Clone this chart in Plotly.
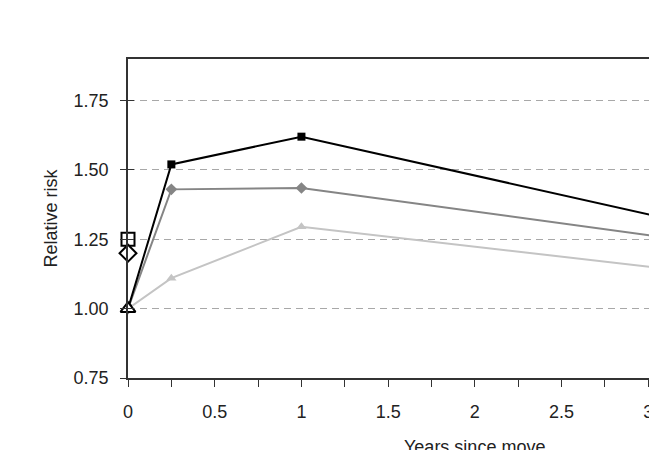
import plotly.graph_objects as go

years = [0, 0.25, 1, 4]
series_black = [1.00, 1.52, 1.62, 1.20]
series_gray = [1.00, 1.43, 1.435, 1.18]
series_light = [1.00, 1.11, 1.295, 1.08]

ref_x = [0, 0, 0]
ref_y = [1.25, 1.20, 1.00]
ref_symbols = ["square", "diamond", "triangle-up"]

x_tickvals = [0, 0.25, 0.5, 0.75, 1, 1.25, 1.5, 1.75, 2, 2.25, 2.5, 2.75, 3]
x_ticktext = ["0", "", "0.5", "", "1", "", "1.5", "", "2", "", "2.5", "", "3"]
y_tickvals = [0.75, 1.00, 1.25, 1.50, 1.75]
y_ticktext = ["0.75", "1.00", "1.25", "1.50", "1.75"]

FONT = "Liberation Sans, Arial, sans-serif"
AX = "#333333"

fig = go.Figure()
fig.add_trace(go.Scatter(x=years, y=series_light, mode="lines+markers",
                         line=dict(color="#c4c4c4", width=2),
                         marker=dict(symbol="triangle-up", size=9, color="#c4c4c4"),
                         showlegend=False))
fig.add_trace(go.Scatter(x=years, y=series_gray, mode="lines+markers",
                         line=dict(color="#858585", width=2),
                         marker=dict(symbol="diamond", size=9, color="#858585"),
                         showlegend=False))
fig.add_trace(go.Scatter(x=years, y=series_black, mode="lines+markers",
                         line=dict(color="#000000", width=2),
                         marker=dict(symbol="square", size=8, color="#000000"),
                         showlegend=False))
fig.add_trace(go.Scatter(x=ref_x, y=ref_y, mode="markers",
                         marker=dict(symbol=ref_symbols, size=13, color="white",
                                     line=dict(color="black", width=2)),
                         cliponaxis=False, showlegend=False))
# helper trace for inside ticks on the y axis
fig.add_trace(go.Scatter(x=[0], y=[1.0], yaxis="y2", mode="markers",
                         marker=dict(opacity=0), hoverinfo="skip", showlegend=False))

fig.update_layout(
    width=649, height=450,
    margin=dict(l=128, r=0, t=59, b=72, autoexpand=False),
    paper_bgcolor="white", plot_bgcolor="white",
    font=dict(family=FONT, size=18, color="#222222"),
    xaxis=dict(range=[0, 3.004], tickvals=x_tickvals, ticktext=x_ticktext,
               ticks="outside", ticklen=7, tickwidth=1.3, tickcolor=AX,
               showline=True, linecolor=AX, linewidth=1.5, mirror=True,
               showgrid=False, zeroline=False, ticklabelstandoff=10,
               ticklabeloverflow="allow", automargin=False),
    yaxis=dict(range=[0.75, 1.90], tickvals=y_tickvals, ticktext=y_ticktext,
               ticks="outside", ticklen=6, tickwidth=1.3, tickcolor=AX,
               showline=True, linecolor=AX, linewidth=1.5,
               showgrid=True, gridcolor="#a8a8a8", gridwidth=1.2, griddash="7px,5px",
               zeroline=False, ticklabelstandoff=8, automargin=False,
               title=dict(text="Relative risk", font=dict(size=18), standoff=11)),
    yaxis2=dict(range=[0.75, 1.90], overlaying="y", side="left",
                tickvals=y_tickvals, ticks="inside", ticklen=6, tickwidth=1.3,
                tickcolor=AX, showticklabels=False, showgrid=False,
                zeroline=False, showline=False, automargin=False),
)
fig.add_annotation(text="Years since move", x=2, xref="x", y=0, yref="paper",
                   yanchor="top", yshift=-57, showarrow=False,
                   font=dict(family=FONT, size=18, color="#222222"))

fig.write_html("out.html")
